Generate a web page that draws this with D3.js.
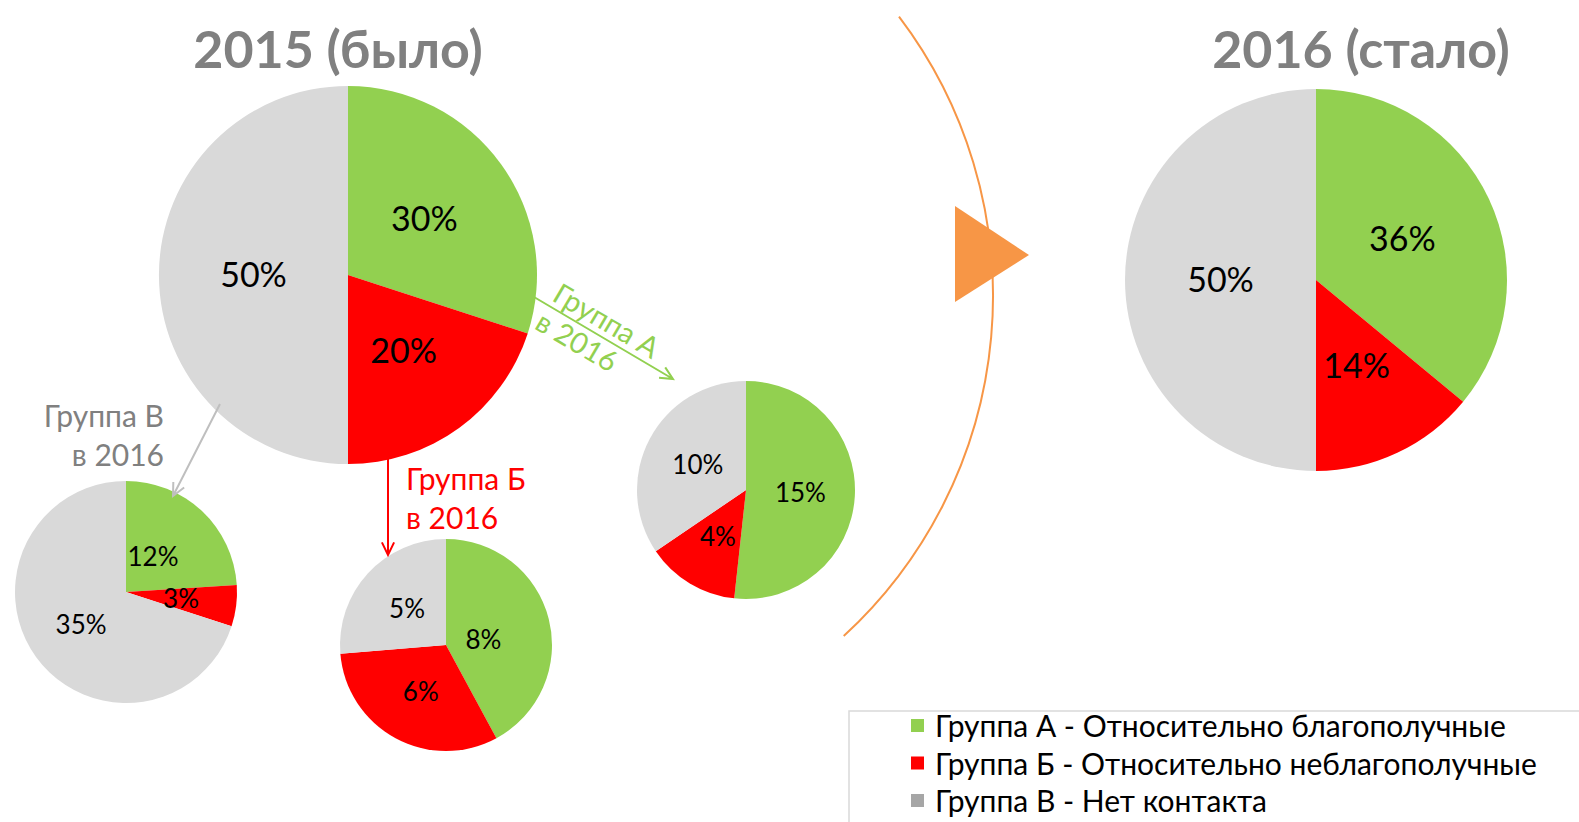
<!DOCTYPE html>
<html>
<head>
<meta charset="utf-8">
<script src="https://cdn.jsdelivr.net/npm/d3@7"></script>
<style>
  html, body { margin: 0; padding: 0; background: #fff; }
  svg { display: block; font-family: Lato, "Open Sans", sans-serif; }
</style>
</head>
<body>
<script>
// groups and colours
const groups = ['Группа А', 'Группа Б', 'Группа В']
const legendLabels = [
    'Группа А - Относительно благополучные',
    'Группа Б - Относительно неблагополучные',
    'Группа В - Нет контакта'
]

// shares, %
const share2015 = [30, 20, 50]
const share2016 = [36, 14, 50]
// where each 2015 group went in 2016 (А, Б, В)
const fromGroupA = [15, 4, 10]
const fromGroupB = [8, 6, 5]
const fromGroupV = [12, 3, 35]

const W = 1579, H = 822
const pieColor = d3.scaleOrdinal().domain(groups).range(['#92D050', '#FF0000', '#D9D9D9'])
const legendColor = d3.scaleOrdinal().domain(groups).range(['#92D050', '#FF0000', '#A6A6A6'])

const svg = d3.select('body').append('svg')
    .attr('width', W)
    .attr('height', H)

const pie = d3.pie().sort(null)

// nudge = optional per-slice label shift (Excel "best fit" placement)
const drawPie = (values, cx, cy, r, fontSize, nudge) => {
    const g = svg.append('g').attr('transform', 'translate(' + cx + ',' + cy + ')')
    const arc = d3.arc().innerRadius(0).outerRadius(r)
    const arcs = pie(values)
    g.selectAll('path')
        .data(arcs)
        .enter().append('path')
        .attr('d', arc)
        .attr('fill', (d, i) => pieColor(groups[i]))
    g.selectAll('text')
        .data(arcs)
        .enter().append('text')
        .attr('transform', (d, i) => {
            const c = arc.centroid(d), n = (nudge && nudge[i]) || [0, 0]
            return 'translate(' + (c[0] + n[0]) + ',' + (c[1] + n[1]) + ')'
        })
        .attr('text-anchor', 'middle')
        .attr('dy', '0.35em')
        .style('font-size', fontSize + 'px')
        .style('fill', '#000')
        .text(d => d.data + '%')
}

drawPie(share2015, 348, 275, 189, 34)
drawPie(share2016, 1316, 280, 191, 34)
drawPie(fromGroupV, 126, 592, 111, 26, [[-11, 5]])
drawPie(fromGroupB, 446, 645, 106, 26, [[-14, 8]])
drawPie(fromGroupA, 746, 490, 109, 26)

// titles
const title = (txt, x) => svg.append('text')
    .attr('x', x).attr('y', 68)
    .attr('text-anchor', 'middle')
    .style('font-size', '52px')
    .style('font-weight', 'bold')
    .style('fill', '#808080')
    .text(txt)
title('2015 (было)', 338)
title('2016 (стало)', 1361)

// open arrows
const arrow = (x1, y1, x2, y2, color, width) => {
    const a = Math.atan2(y2 - y1, x2 - x1), L = 14, s = 0.45
    const head = [a - Math.PI + s, a + Math.PI - s].map(t => [x2 + L * Math.cos(t), y2 + L * Math.sin(t)])
    svg.append('path')
        .attr('d', 'M' + x1 + ',' + y1 + 'L' + x2 + ',' + y2 +
            'M' + head[0] + 'L' + x2 + ',' + y2 + 'L' + head[1])
        .attr('fill', 'none')
        .attr('stroke', color)
        .attr('stroke-width', width)
}

arrow(534, 297, 673, 379, '#92D050', 2)
arrow(388, 458, 388, 555, '#FF0000', 2)
arrow(220, 404, 173, 496, '#BFBFBF', 2)

// arrow captions
const capA = svg.append('g')
    .attr('transform', 'translate(534,297) rotate(30.5)')
    .style('font-size', '29px')
    .style('fill', '#92D050')
capA.append('text').attr('x', 16).attr('y', -6).text('Группа А')
capA.append('text').attr('x', 15).attr('y', 27).text('в 2016')

const capB = svg.append('g').style('font-size', '30px').style('fill', '#FF0000')
capB.append('text').attr('x', 406).attr('y', 490).text('Группа Б')
capB.append('text').attr('x', 406).attr('y', 529).text('в 2016')

const capV = svg.append('g').style('font-size', '30px').style('fill', '#808080').attr('text-anchor', 'end')
capV.append('text').attr('x', 164).attr('y', 427).text('Группа В')
capV.append('text').attr('x', 164).attr('y', 466).text('в 2016')

// orange arc and triangle between the two years
const bigArc = d3.arc()
    .innerRadius(462).outerRadius(462)
    .startAngle(52.8 * Math.PI / 180)
    .endAngle(137.4 * Math.PI / 180)
svg.append('path')
    .attr('transform', 'translate(531,296)')
    .attr('d', bigArc())
    .attr('fill', 'none')
    .attr('stroke', '#F79646')
    .attr('stroke-width', 2)

svg.append('path')
    .attr('d', d3.line()([[955, 206], [955, 302], [1029, 255]]) + 'Z')
    .attr('fill', '#F79646')

// legend
const lg = svg.append('g')
svg.append('path')
    .attr('d', 'M' + W + ',711H849V' + H)
    .attr('fill', 'none')
    .attr('stroke', '#D9D9D9')
    .attr('stroke-width', 1.5)

const rowY = d3.scalePoint().domain(groups).range([737, 812])
const items = lg.selectAll('g')
    .data(groups)
    .enter().append('g')
    .attr('transform', d => 'translate(911,' + rowY(d) + ')')
items.append('rect')
    .attr('x', 0).attr('y', -18)
    .attr('width', 13).attr('height', 13)
    .attr('fill', d => legendColor(d))
items.append('text')
    .attr('x', 24)
    .style('font-size', '30px')
    .style('fill', '#000')
    .text((d, i) => legendLabels[i])
</script>
</body>
</html>
